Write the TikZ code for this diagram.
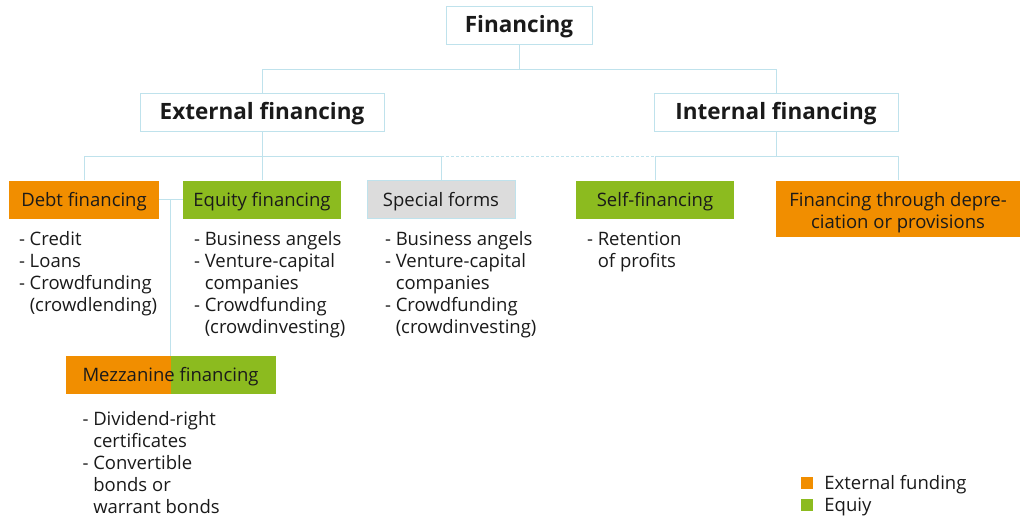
\documentclass[tikz,border=0pt]{standalone}
\usepackage{fontspec}
\setmainfont{Open Sans}
\usetikzlibrary{calc, positioning}
\definecolor{fhorange}{HTML}{F18E00}
\definecolor{fhgreen}{HTML}{8CBB1F}
\definecolor{fhgrey}{HTML}{DCDCDC}
\definecolor{fhline}{HTML}{BFE2EC}
\definecolor{fhtext}{HTML}{1A1A1A}

\begin{document}
\begin{tikzpicture}[
   x = 1pt, y = -1pt,
   text = fhtext,
   link/.style = {draw=fhline, line width=1pt},
   head/.style = {draw=fhline, fill=white, line width=1pt, minimum height=38pt, minimum width=244pt, inner sep=0pt, text height=20pt, text depth=4.3pt, font=\fontsize{22.5}{26}\selectfont\bfseries},
   cat/.style = {minimum height=38pt, inner sep=0pt, text height=17.2pt, text depth=4pt, font=\fontsize{18.5}{22}\selectfont},
   items/.style = {align=left, inner sep=0pt, font=\fontsize{18.5}{22}\selectfont, execute at begin node=\strut},
   key/.style = {minimum size=12pt, inner sep=0pt},
   keytext/.style = {inner sep=0pt, text height=17.2pt, text depth=4pt, font=\fontsize{18.5}{22}\selectfont}]
   \useasboundingbox (0,0) rectangle (1024,522);

   \node[head, minimum width=146pt] (fin) at (519,25) {Financing};
   \node[head] (ext) at (262,112) {External financing};
   \node[head] (int) at (776,112) {Internal financing};

   \node[cat, fill=fhorange, minimum width=150pt] (debt) at (84,199.5) {Debt financing};
   \node[cat, fill=fhgreen, minimum width=158pt] (equity) at (262,199.5) {Equity financing};
   \node[cat, fill=fhgrey, draw=fhline, minimum width=148pt] (special) at (441,199.5) {Special forms};
   \node[cat, fill=fhgreen, minimum width=158pt] (self) at (655,199.5) {Self-financing};
   \node[cat, fill=fhorange, minimum width=244pt, minimum height=56pt, align=center, text height=39.2pt, text depth=0pt] (dep) at (898,208.5) {Financing through depre-\\ciation or provisions};
   \node[cat, fill=fhgreen, minimum width=210pt, path picture={\fill[fhorange] (path picture bounding box.north west) rectangle (path picture bounding box.south);}] (mezz) at (170.5,375) {Mezzanine financing};

   \node[items, below right=13pt and 10pt of debt.south west] (debtl) {- Credit\\- Loans\\- Crowdfunding\\\phantom{- }(crowdlending)};
   \node[items, below right=13pt and 11pt of equity.south west] (equityl) {- Business angels\\- Venture-capital\\\phantom{- }companies\\- Crowdfunding\\\phantom{- }(crowdinvesting)};
   \node[items, below right=13pt and 18pt of special.south west] (speciall) {- Business angels\\- Venture-capital\\\phantom{- }companies\\- Crowdfunding\\\phantom{- }(crowdinvesting)};
   \node[items, below right=13pt and 11pt of self.south west] (selfl) {- Retention\\\phantom{- }of profits};
   \node[items, below right=17pt and 17pt of mezz.south west] (mezzl) {- Dividend-right\\\phantom{- }certificates\\- Convertible\\\phantom{- }bonds or\\\phantom{- }warrant bonds};

   \coordinate (top) at ([yshift=-25pt]fin.south);
   \coordinate (extbar) at ([yshift=-25pt]ext.south);
   \coordinate (intbar) at ([yshift=-25pt]int.south);

   \draw[link] (fin.south) -- (top);
   \draw[link] (ext.north) |- (top) -| (int.north);
   \draw[link] (ext.south) -- (equity.north);
   \draw[link] (debt.north) |- (extbar) -| (special.north);
   \draw[link] (int.south) -- (intbar);
   \draw[link] (self.north) |- (intbar) -| (dep.north);
   \draw[link, dash pattern=on 3pt off 2pt] (special.north |- extbar) -- (self.north |- intbar);
   \draw[link] (debt.east) -- (equity.west);
   \draw[link] (mezz.north |- debt.east) -- (mezz.north);

   \node[key, fill=fhorange] (ko) at (807,483) {};
   \node[key, fill=fhgreen] (kg) at (807,505) {};
   \node[keytext, right=11pt of ko] (kol) {External funding};
   \node[keytext, right=11pt of kg] (kgl) {Equiy};
\end{tikzpicture}
\end{document}
